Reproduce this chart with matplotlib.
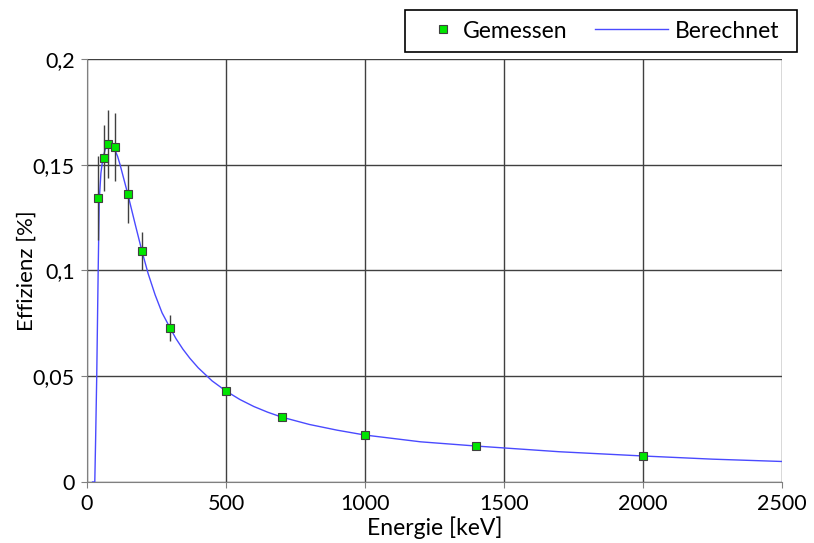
import matplotlib
matplotlib.use("Agg")
import matplotlib.pyplot as plt
from matplotlib.ticker import FuncFormatter
from matplotlib.legend_handler import HandlerLine2D
from matplotlib.patches import Rectangle

plt.rcParams['font.family'] = ['Lato', 'DejaVu Sans']

# Measured points
energy = [40, 60, 77, 100, 148, 198, 300, 500, 700, 1000, 1400, 2000]
eff = [0.1343, 0.1532, 0.1598, 0.1584, 0.1362, 0.1092, 0.0728, 0.0430, 0.0307, 0.0222, 0.0170, 0.0123]
err = [0.020, 0.0156, 0.016, 0.016, 0.0137, 0.0088, 0.006, 0.0, 0.0, 0.0, 0.0, 0.0]

# Calculated curve
curve_e = [20, 28, 31, 35, 40, 44, 50, 57, 65, 72, 83, 97, 110, 119, 135, 147, 160, 175, 198, 220, 245,
           270, 299, 320, 345, 370, 400, 450, 500, 550, 600, 650, 700, 800, 900, 1000, 1200, 1400, 1700,
           2000, 2250, 2500]
curve_eff = [0.0, 0.0, 0.02, 0.05, 0.098, 0.133, 0.146, 0.153, 0.157, 0.159, 0.1605, 0.158, 0.154, 0.150,
             0.142, 0.136, 0.129, 0.121, 0.109, 0.0985, 0.0885, 0.0800, 0.0728, 0.0678, 0.0628, 0.0585,
             0.0540, 0.0478, 0.0430, 0.0390, 0.0357, 0.0330, 0.0307, 0.0272, 0.0245, 0.0222, 0.0190,
             0.0170, 0.0143, 0.0123, 0.0108, 0.0097]

xticks = [0, 500, 1000, 1500, 2000, 2500]
yticks = [0, 0.05, 0.1, 0.15, 0.2]

W, H = 814, 543
fig = plt.figure(figsize=(W / 100, H / 100), dpi=100)
ax = fig.add_axes([87 / W, 61 / H, 695 / W, 423 / H])

ln, = ax.plot(curve_e, curve_eff, color='#4a4aff', lw=1.0, label='Berechnet', zorder=3)
ax.errorbar(energy, eff, yerr=err, fmt='none', ecolor='#404040', elinewidth=1.0, capsize=0, zorder=4)
mk, = ax.plot(energy, eff, linestyle='none', marker='s', markersize=6.3, markerfacecolor='#00e600',
              markeredgecolor='#404040', markeredgewidth=0.8, label='Gemessen', zorder=5)

ax.set_xlim(0, 2500)
ax.set_ylim(0, 0.2)
ax.set_xticks(xticks)
ax.set_yticks(yticks)
ax.yaxis.set_major_formatter(FuncFormatter(lambda v, p: ('%g' % v).replace('.', ',')))
ax.grid(True, color='#404040', lw=1.0)
ax.set_axisbelow(True)
for s in ['top', 'right']:
    ax.spines[s].set_visible(False)
for s in ['left', 'bottom']:
    ax.spines[s].set_color('#808080')
ax.tick_params(axis='both', labelsize=15.5, color='#808080', length=4, direction='out', pad=5)
ax.set_xlabel('Energie [keV]', fontsize=16.5)
ax.set_ylabel('Effizienz [%]', fontsize=16)
ax.xaxis.set_label_coords(0.5, (482 - 516) / 423)
ax.yaxis.set_label_coords((37 - 87) / 695, 0.5)

FS = 16.5
FPX = FS * 100 / 72.0


class MarkerRight(HandlerLine2D):
    def get_xdata(self, legend, xdescent, ydescent, width, height, fontsize):
        xd, xm = super().get_xdata(legend, xdescent, ydescent, width, height, fontsize)
        return xd, [width - xdescent - 9 * 72 / 100.0]


class LongLine(HandlerLine2D):
    def get_xdata(self, legend, xdescent, ydescent, width, height, fontsize):
        xd, xm = super().get_xdata(legend, xdescent, ydescent, width, height, fontsize)
        ext = 47 * 72 / 100.0
        return [-xdescent - ext, width - xdescent], xm


leg = fig.legend([mk, ln], ['Gemessen', 'Berechnet'], loc='center left',
                 bbox_to_anchor=(430 / W, 1 - 31 / H), ncol=2, fontsize=FS, frameon=False,
                 handlelength=26 / FPX, handletextpad=7 / FPX, columnspacing=74 / FPX,
                 borderpad=0, borderaxespad=0,
                 handler_map={mk: MarkerRight(numpoints=1), ln: LongLine()})

fig.patches.append(Rectangle((405 / W, 1 - 52 / H), 392 / W, 42 / H, transform=fig.transFigure,
                             facecolor='none', edgecolor='black', lw=1.2))

fig.savefig('out.png', dpi=100)
